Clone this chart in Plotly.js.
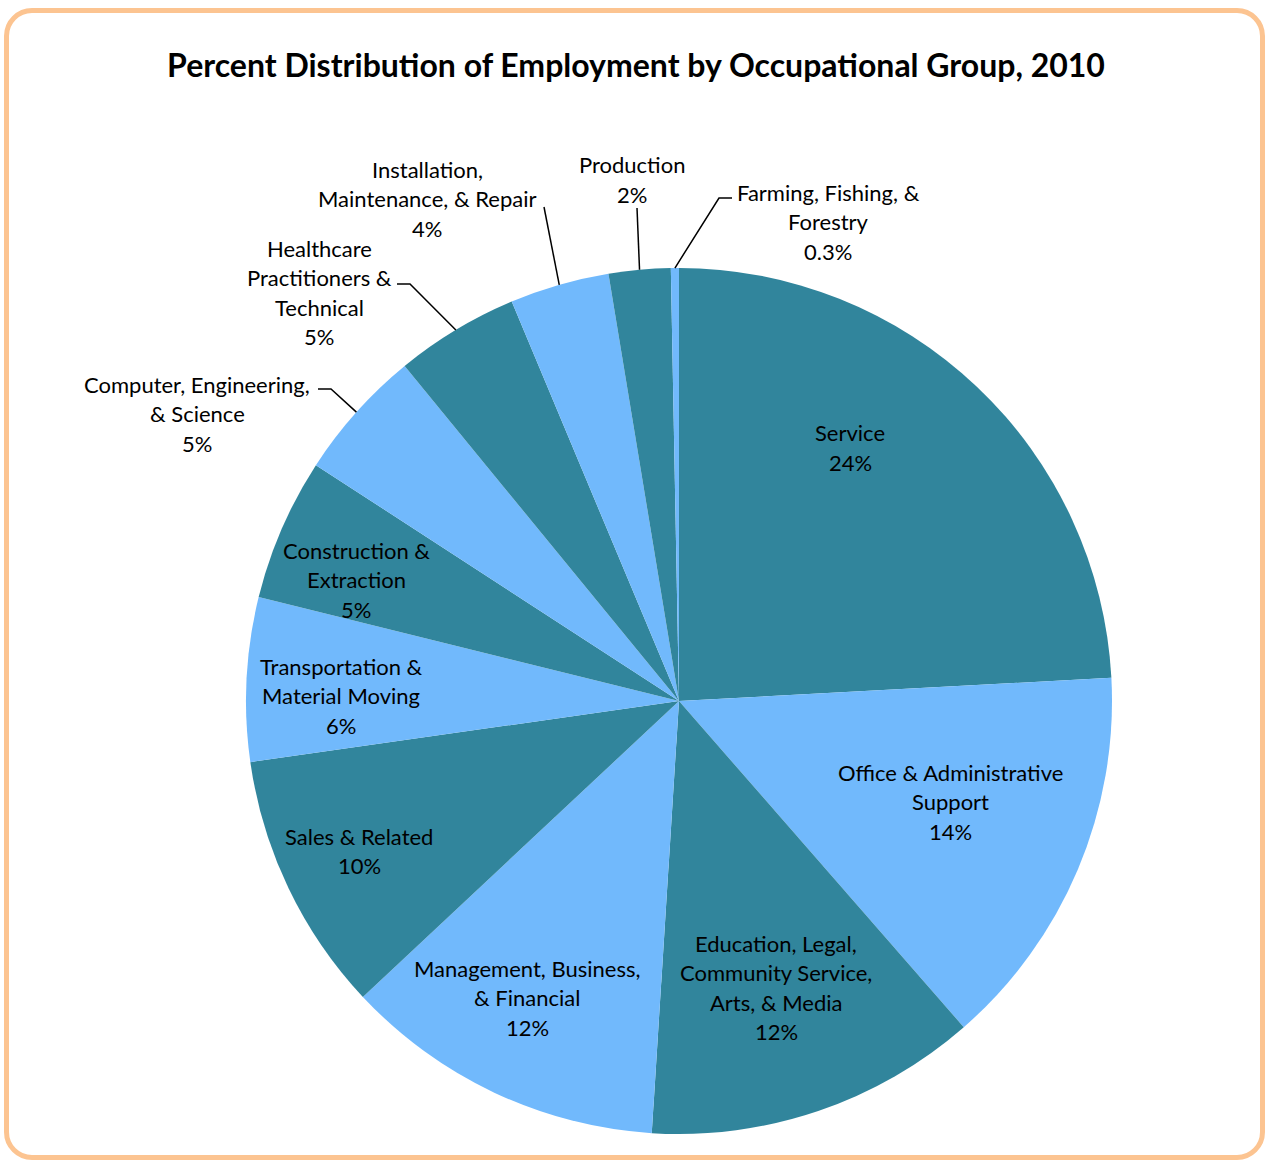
<!DOCTYPE html>
<html>
<head>
<meta charset="utf-8">
<script src="https://cdn.plot.ly/plotly-3.0.1.min.js"></script>
<style>
  html, body { margin: 0; padding: 0; background: #fff; }
  #wrap { position: relative; width: 1266px; height: 1163px; }
  #chart { width: 1266px; height: 1163px; }
  #frame { position: absolute; left: 4px; top: 8px; width: 1261px; height: 1152px;
           box-sizing: border-box; border: 5px solid #FCC491; border-radius: 28px;
           pointer-events: none; }
</style>
</head>
<body>
<div id="wrap"><div id="chart"></div><div id="frame"></div></div>
<script>
// ---- data ----
const categories = [
  "Service",
  "Office & Administrative<br>Support",
  "Education, Legal,<br>Community Service,<br>Arts, & Media",
  "Management, Business,<br>& Financial",
  "Sales & Related",
  "Transportation &<br>Material Moving",
  "Construction &<br>Extraction",
  "Computer, Engineering,<br>& Science",
  "Healthcare<br>Practitioners &<br>Technical",
  "Installation,<br>Maintenance, & Repair",
  "Production",
  "Farming, Fishing, &<br>Forestry"
];
const percents = [24.1, 14.4, 12.4, 12.0, 9.7, 6.1, 5.3, 4.9, 4.6, 3.7, 2.3, 0.3];
const percentLabels = ["24%", "14%", "12%", "12%", "10%", "6%", "5%", "5%", "5%", "4%", "2%", "0.3%"];

// ---- layout / styling (pixel positions of label blocks) ----
const W = 1266, H = 1163;
const CX = 679, CY = 701, R = 433;
const TEAL = "#31859C", LIGHT = "#71B9FC";
const sliceColors = percents.map((_, i) => i % 2 === 0 ? TEAL : LIGHT);
// label block: center x, first line y (px)
const labelPos = [
  [850, 433], [950, 772], [776, 943], [527, 968], [359, 836], [341, 666],
  [356, 550], [197, 384], [319, 248], [427, 169], [632, 165], [828, 192]
];
const LINE_H = 29.5;
// leader lines: index -> start points (px) before the slice edge
const leaders = {
  7: [[318, 389], [331, 389]],
  8: [[397, 284], [410, 284]],
  9: [[544, 207]],
  10: [[637, 208]],
  11: [[732, 198], [719, 198]]
};

const px = x => x / W;
const py = y => 1 - y / H;

const annotations = [];
categories.forEach((cat, i) => {
  const lines = cat.split("<br>").concat([percentLabels[i]]);
  const [lx, ly] = labelPos[i];
  lines.forEach((t, k) => {
    annotations.push({
      text: t, showarrow: false, xref: "paper", yref: "paper",
      x: px(lx), y: py(ly + k * LINE_H), xanchor: "center", yanchor: "middle",
      font: { family: "Lato, 'Open Sans', sans-serif", size: 22, color: "#000" }
    });
  });
});

// slice mid-angle edge points, computed from the data
const total = percents.reduce((a, b) => a + b, 0);
let cum = 0;
const midAngles = percents.map(v => { const m = (cum + v / 2) / total * 2 * Math.PI; cum += v; return m; });

const shapes = Object.keys(leaders).map(key => {
  const i = +key;
  const pts = leaders[i].slice();
  const a = midAngles[i];
  pts.push([CX + R * Math.sin(a), CY - R * Math.cos(a)]);
  const d = pts.map((p, k) => (k === 0 ? "M" : "L") + px(p[0]).toFixed(5) + "," + py(p[1]).toFixed(5)).join(" ");
  return { type: "path", xref: "paper", yref: "paper", path: d, line: { color: "#000", width: 1.5 } };
});

const trace = {
  type: "pie",
  values: percents,
  labels: categories,
  sort: false,
  direction: "clockwise",
  rotation: 0,
  textinfo: "none",
  hoverinfo: "label+percent",
  marker: { colors: sliceColors, line: { width: 0 } },
  domain: { x: [(CX - R) / W, (CX + R) / W], y: [1 - (CY + R) / H, 1 - (CY - R) / H] },
  showlegend: false
};

const layout = {
  width: W, height: H,
  margin: { l: 0, r: 0, t: 0, b: 0 },
  paper_bgcolor: "#fff",
  showlegend: false,
  title: {
    text: "<b>Percent Distribution of Employment by Occupational Group, 2010</b>",
    x: 636 / W, xanchor: "center", xref: "paper",
    y: 1 - 66 / H, yanchor: "middle", yref: "paper",
    font: { family: "Lato, 'Open Sans', sans-serif", size: 32, color: "#000" }
  },
  annotations: annotations,
  shapes: shapes
};

Plotly.newPlot("chart", [trace], layout, { displayModeBar: false, staticPlot: true });
</script>
</body>
</html>
